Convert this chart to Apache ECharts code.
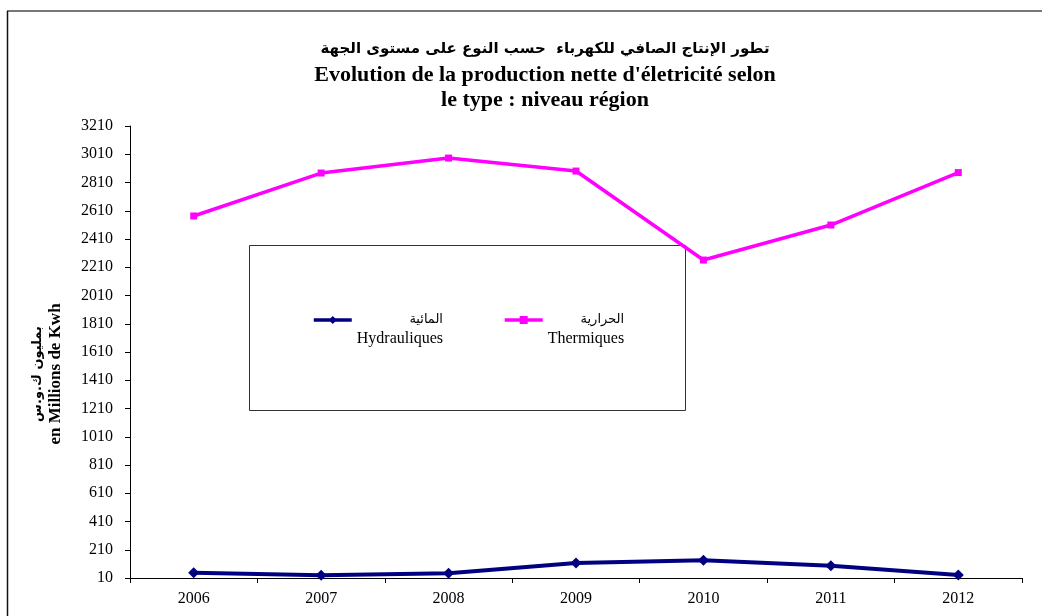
<!DOCTYPE html>
<html>
<head>
<meta charset="utf-8">
<script src="https://cdn.jsdelivr.net/npm/echarts@6/dist/echarts.min.js"></script>
<style>
html, body { margin: 0; padding: 0; background: #fff; }
#main { width: 1042px; height: 616px; }
</style>
</head>
<body>
<div id="main"></div>
<script>
var years = ['2006', '2007', '2008', '2009', '2010', '2011', '2012'];
var hydrauliques = [47, 29, 43, 116, 135, 97, 31];
var thermiques = [2573, 2877, 2983, 2891, 2261, 2509, 2880];
var yMin = 10, yMax = 3210, yStep = 200;

var serif = '"Liberation Serif", "Times New Roman", "DejaVu Sans", serif';
var arabic = '"DejaVu Sans", "Liberation Sans", sans-serif';

var chart = echarts.init(document.getElementById('main'));
chart.setOption({
	backgroundColor: '#fff',
	animation: false,
	title: {
		left: 540,
		top: 30,
		textAlign: 'center',
		text: '{ar|تطور الإنتاج الصافي للكهرباء  حسب النوع على مستوى الجهة}\n{fr|Evolution de la production nette d\'életricité selon}\n{fr|le type : niveau région}',
		textStyle: {
			rich: {
				ar: { fontFamily: arabic, fontWeight: 'bold', fontSize: 15, lineHeight: 28, color: '#000' },
				fr: { fontFamily: serif, fontWeight: 'bold', fontSize: 22, lineHeight: 25, color: '#000' }
			}
		}
	},
	grid: { left: 130, right: 20, top: 126, bottom: 38 },
	legend: {
		left: 312,
		top: 296,
		padding: 0,
		itemGap: 60,
		itemWidth: 38,
		itemHeight: 10,
		data: [
			{ name: 'Hydrauliques', lineStyle: { width: 3.5 } },
			{ name: 'Thermiques', lineStyle: { width: 3.5 } }
		],
		formatter: function (name) {
			var ar = name === 'Hydrauliques' ? 'المائية' : 'الحرارية';
			return '{sp| }\n{ar|' + ar + '}\n{fr|' + name + '}';
		},
		textStyle: {
			rich: {
				sp: { fontSize: 10, lineHeight: 20 },
				ar: { fontFamily: arabic, fontSize: 13, lineHeight: 18, align: 'right', color: '#000' },
				fr: { fontFamily: serif, fontSize: 16, lineHeight: 20, align: 'right', color: '#000' }
			}
		}
	},
	xAxis: {
		type: 'category',
		data: years,
		boundaryGap: true,
		axisLine: { lineStyle: { color: '#000', width: 1 } },
		axisTick: { show: true, length: 5, lineStyle: { color: '#000' } },
		axisLabel: { fontFamily: serif, fontSize: 16, color: '#000', margin: 13 }
	},
	yAxis: {
		type: 'value',
		min: yMin,
		max: yMax,
		interval: yStep,
		splitLine: { show: false },
		axisLine: { show: true, lineStyle: { color: '#000', width: 1 } },
		axisTick: { show: true, length: 5, lineStyle: { color: '#000' } },
		axisLabel: {
			fontFamily: serif, fontSize: 16, color: '#000', margin: 17,
			formatter: function (v) { return String(v); }
		}
	},
	graphic: [
		{ type: 'line', shape: { x1: 7, y1: 11, x2: 1042, y2: 11 }, style: { stroke: '#777', lineWidth: 2 }, z: 1 },
		{ type: 'line', shape: { x1: 7.5, y1: 11, x2: 7.5, y2: 616 }, style: { stroke: '#111', lineWidth: 1.5 }, z: 1 },
		{ type: 'rect', shape: { x: 249.5, y: 245.5, width: 436, height: 165 }, style: { fill: '#fff', stroke: '#333', lineWidth: 1 }, z: 0 },
		{
			type: 'text', x: 47, y: 374, rotation: Math.PI / 2,
			style: {
				text: '{ar|بمليون ك.و.س}\n{fr|en Millions de Kwh}',
				align: 'center', verticalAlign: 'middle',
				rich: {
					ar: { fontFamily: arabic, fontWeight: 'bold', fontSize: 13, lineHeight: 17, align: 'center', fill: '#000' },
					fr: { fontFamily: serif, fontWeight: 'bold', fontSize: 17, lineHeight: 18, align: 'center', fill: '#000' }
				}
			}
		}
	],
	series: [
		{
			name: 'Hydrauliques',
			type: 'line',
			data: hydrauliques,
			symbol: 'diamond',
			symbolSize: 11,
			color: '#000080',
			lineStyle: { width: 4, color: '#000080' },
			itemStyle: { color: '#000080' },
			z: 3
		},
		{
			name: 'Thermiques',
			type: 'line',
			data: thermiques,
			symbol: 'rect',
			symbolSize: 7,
			color: '#ff00ff',
			lineStyle: { width: 3.5, color: '#ff00ff' },
			itemStyle: { color: '#ff00ff' },
			z: 3
		}
	]
});
</script>
</body>
</html>
